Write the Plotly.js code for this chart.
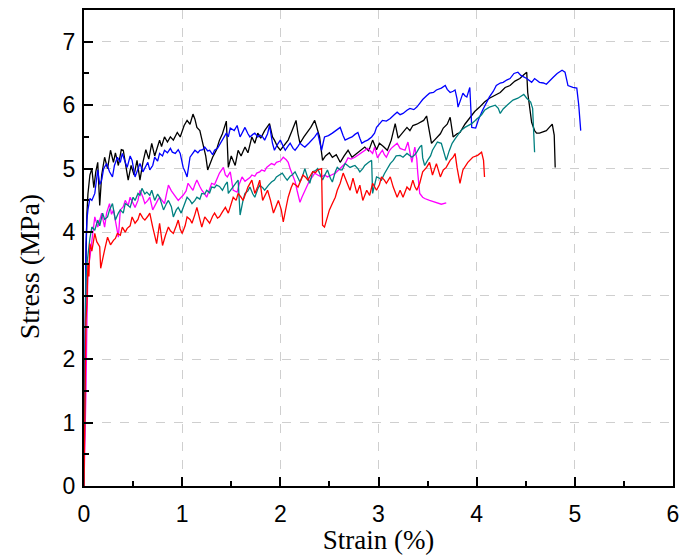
<!DOCTYPE html>
<html>
<head>
<meta charset="utf-8">
<script src="https://cdn.plot.ly/plotly-3.0.1.min.js"></script>
<style>html,body{margin:0;padding:0;background:#fff;}#chart{width:693px;height:555px;}</style>
</head>
<body>
<div id="chart"></div>
<script>
// Stress-strain curves: [strain %, stress MPa]
const blackCurve = [[0,0],[0.01,2.5],[0.02,3.6],[0.03,4.3],[0.04,4.6],[0.06,4.9],[0.08,5.0],[0.1,4.7],[0.12,4.95],[0.14,5.1],[0.16,4.42],[0.18,4.9],[0.21,5.18],[0.24,5.0],[0.27,5.29],[0.3,5.1],[0.32,5.25],[0.35,5.05],[0.38,5.3],[0.4,5.29],[0.43,5.0],[0.45,4.82],[0.48,5.05],[0.51,4.9],[0.54,5.13],[0.57,4.82],[0.6,5.1],[0.63,5.3],[0.66,5.15],[0.69,5.4],[0.72,5.2],[0.74,5.29],[0.77,5.45],[0.79,5.35],[0.82,5.5],[0.85,5.42],[0.88,5.5],[0.91,5.45],[0.95,5.57],[0.98,5.5],[1.02,5.68],[1.05,5.76],[1.08,5.7],[1.11,5.86],[1.13,5.78],[1.15,5.65],[1.18,5.6],[1.21,5.4],[1.24,5.2],[1.26,4.98],[1.29,5.1],[1.31,5.18],[1.35,5.3],[1.38,5.45],[1.41,5.55],[1.45,5.75],[1.47,5.02],[1.5,5.2],[1.54,5.05],[1.57,5.29],[1.6,5.2],[1.64,5.34],[1.67,5.25],[1.71,5.5],[1.74,5.4],[1.77,5.56],[1.8,5.48],[1.84,5.6],[1.89,5.71],[1.92,5.5],[1.94,5.45],[1.97,5.35],[2.0,5.29],[2.04,5.38],[2.08,5.45],[2.12,5.6],[2.16,5.76],[2.18,5.55],[2.2,5.4],[2.24,5.5],[2.27,5.56],[2.31,5.65],[2.35,5.76],[2.38,5.6],[2.4,5.5],[2.43,5.13],[2.46,5.2],[2.5,5.25],[2.53,5.18],[2.57,5.22],[2.61,5.1],[2.65,5.2],[2.69,5.29],[2.73,5.18],[2.78,5.24],[2.82,5.3],[2.86,5.34],[2.9,5.28],[2.94,5.45],[2.98,5.3],[3.01,5.4],[3.05,5.35],[3.09,5.29],[3.13,5.45],[3.17,5.71],[3.2,5.48],[3.24,5.55],[3.29,5.65],[3.32,5.6],[3.35,5.68],[3.39,5.7],[3.42,5.73],[3.46,5.76],[3.49,5.83],[3.52,5.6],[3.54,5.4],[3.57,5.45],[3.59,5.48],[3.63,5.55],[3.66,5.64],[3.7,5.7],[3.73,5.81],[3.76,5.5],[3.8,5.55],[3.83,5.57],[3.88,5.7],[3.93,5.81],[3.98,5.9],[4.03,5.97],[4.08,6.05],[4.13,6.11],[4.18,6.15],[4.24,6.2],[4.29,6.28],[4.34,6.31],[4.39,6.38],[4.44,6.42],[4.48,6.48],[4.51,6.52],[4.52,6.2],[4.54,5.95],[4.56,5.73],[4.59,5.6],[4.61,5.56],[4.64,5.56],[4.68,5.58],[4.71,5.6],[4.74,5.65],[4.77,5.7],[4.79,5.53],[4.8,5.02]];

const blueCurve = [[0,0],[0.01,2.8],[0.02,3.8],[0.03,4.2],[0.04,4.35],[0.06,4.53],[0.08,4.5],[0.11,4.61],[0.14,4.98],[0.16,4.75],[0.18,4.82],[0.2,5.0],[0.23,5.08],[0.26,4.95],[0.29,4.87],[0.31,5.05],[0.34,5.18],[0.37,5.1],[0.39,5.24],[0.42,5.1],[0.44,5.02],[0.47,5.2],[0.49,5.13],[0.52,4.87],[0.55,5.0],[0.57,5.08],[0.6,4.95],[0.62,5.02],[0.65,5.1],[0.67,4.98],[0.7,5.05],[0.72,5.18],[0.75,5.12],[0.77,5.24],[0.8,5.2],[0.82,5.29],[0.85,5.25],[0.88,5.32],[0.9,5.26],[0.93,5.24],[0.96,5.3],[0.98,5.24],[1.01,5.02],[1.03,4.95],[1.05,4.87],[1.08,5.18],[1.1,5.22],[1.13,5.29],[1.16,5.25],[1.18,5.29],[1.21,5.3],[1.23,5.34],[1.26,5.28],[1.28,5.29],[1.31,5.22],[1.33,5.29],[1.36,5.32],[1.38,5.37],[1.41,5.45],[1.43,5.5],[1.45,5.56],[1.47,5.5],[1.49,5.64],[1.53,5.6],[1.56,5.68],[1.59,5.5],[1.62,5.58],[1.64,5.65],[1.67,5.55],[1.69,5.5],[1.72,5.54],[1.74,5.56],[1.77,5.5],[1.79,5.53],[1.82,5.5],[1.84,5.45],[1.87,5.55],[1.89,5.68],[1.92,5.4],[1.94,5.29],[1.97,5.38],[2.0,5.45],[2.03,5.35],[2.05,5.29],[2.08,5.36],[2.1,5.4],[2.13,5.32],[2.15,5.29],[2.18,5.35],[2.2,5.4],[2.23,5.36],[2.25,5.34],[2.29,5.4],[2.32,5.45],[2.35,5.5],[2.38,5.57],[2.4,5.45],[2.42,5.29],[2.45,5.5],[2.49,5.52],[2.53,5.56],[2.57,5.6],[2.61,5.65],[2.64,5.52],[2.66,5.45],[2.7,5.48],[2.73,5.5],[2.76,5.54],[2.79,5.57],[2.81,5.48],[2.83,5.4],[2.86,5.43],[2.89,5.45],[2.93,5.5],[2.96,5.56],[2.98,5.65],[3.01,5.7],[3.04,5.76],[3.08,5.75],[3.12,5.79],[3.16,5.85],[3.19,5.89],[3.22,5.85],[3.25,5.87],[3.29,5.92],[3.32,5.95],[3.36,5.93],[3.39,5.97],[3.42,6.03],[3.45,6.09],[3.49,6.15],[3.52,6.19],[3.56,6.2],[3.59,6.24],[3.64,6.27],[3.68,6.31],[3.7,6.25],[3.73,6.2],[3.76,6.22],[3.78,6.24],[3.8,6.1],[3.81,5.97],[3.84,6.1],[3.86,6.19],[3.88,6.15],[3.9,6.13],[3.93,6.28],[3.95,5.65],[3.99,5.64],[4.02,5.78],[4.06,5.92],[4.1,6.05],[4.13,6.13],[4.17,6.22],[4.2,6.31],[4.24,6.35],[4.27,6.36],[4.31,6.4],[4.34,6.42],[4.38,6.5],[4.42,6.52],[4.45,6.47],[4.48,6.45],[4.51,6.42],[4.56,6.36],[4.59,6.42],[4.64,6.36],[4.68,6.35],[4.71,6.33],[4.75,6.4],[4.78,6.44],[4.82,6.5],[4.87,6.55],[4.9,6.52],[4.93,6.31],[4.98,6.28],[5.02,6.27],[5.04,6.0],[5.06,5.6]];

const magentaCurve = [[0,0],[0.01,0.6],[0.02,1.5],[0.03,2.6],[0.04,3.4],[0.06,3.6],[0.08,3.87],[0.1,4.1],[0.11,4.24],[0.14,4.08],[0.16,4.2],[0.18,4.3],[0.21,4.08],[0.23,4.3],[0.26,4.45],[0.28,4.28],[0.3,4.35],[0.33,4.1],[0.35,3.92],[0.37,4.35],[0.4,4.4],[0.42,4.5],[0.45,4.42],[0.47,4.55],[0.5,4.45],[0.52,4.39],[0.55,4.5],[0.57,4.66],[0.6,4.55],[0.62,4.45],[0.65,4.5],[0.67,4.55],[0.7,4.35],[0.73,4.45],[0.75,4.5],[0.77,4.55],[0.8,4.5],[0.82,4.45],[0.84,4.6],[0.86,4.74],[0.89,4.65],[0.91,4.61],[0.94,4.55],[0.96,4.5],[0.99,4.55],[1.01,4.58],[1.04,4.65],[1.06,4.77],[1.09,4.7],[1.11,4.66],[1.13,4.75],[1.15,4.82],[1.18,4.72],[1.2,4.66],[1.23,4.6],[1.25,4.55],[1.28,4.68],[1.3,4.77],[1.33,4.75],[1.35,4.82],[1.38,4.93],[1.42,5.02],[1.44,4.9],[1.46,4.87],[1.49,4.95],[1.52,4.66],[1.56,4.63],[1.58,4.75],[1.61,4.87],[1.64,4.8],[1.66,4.82],[1.69,4.86],[1.71,4.9],[1.74,4.88],[1.76,4.93],[1.79,4.95],[1.81,4.98],[1.84,4.96],[1.86,5.02],[1.89,5.05],[1.91,5.08],[1.94,5.06],[1.96,5.1],[2.0,5.12],[2.03,5.18],[2.06,5.14],[2.08,5.1],[2.1,5.0],[2.12,4.93],[2.15,4.8],[2.17,4.66],[2.2,4.47],[2.22,4.55],[2.25,4.66],[2.28,4.75],[2.3,4.82],[2.33,4.88],[2.35,4.93],[2.38,4.9],[2.42,4.87],[2.45,4.9],[2.48,4.87],[2.52,4.9],[2.56,4.93],[2.58,4.96],[2.61,5.0],[2.64,5.05],[2.66,5.08],[2.69,5.17],[2.72,5.15],[2.76,5.18],[2.8,5.22],[2.83,5.26],[2.86,5.28],[2.89,5.32],[2.91,5.29],[2.94,5.24],[2.96,5.34],[2.99,5.17],[3.02,5.25],[3.04,5.29],[3.06,5.22],[3.08,5.18],[3.11,5.28],[3.13,5.32],[3.16,5.36],[3.19,5.4],[3.22,5.32],[3.25,5.3],[3.27,5.29],[3.3,5.42],[3.32,5.25],[3.34,5.1],[3.37,5.34],[3.39,5.15],[3.4,4.93],[3.42,4.61],[3.45,4.55],[3.47,4.53],[3.52,4.5],[3.56,4.48],[3.59,4.47],[3.64,4.44],[3.69,4.46]];

const tealCurve = [[0,0],[0.01,2.5],[0.02,3.3],[0.03,3.5],[0.04,3.67],[0.06,3.9],[0.08,4.08],[0.11,4.03],[0.14,4.19],[0.16,4.1],[0.19,4.3],[0.21,4.2],[0.24,4.24],[0.26,4.35],[0.29,4.45],[0.32,4.19],[0.35,4.3],[0.37,4.35],[0.4,4.3],[0.42,4.45],[0.45,4.42],[0.47,4.39],[0.5,4.55],[0.52,4.5],[0.55,4.61],[0.57,4.58],[0.59,4.69],[0.62,4.6],[0.64,4.63],[0.67,4.58],[0.69,4.66],[0.72,4.5],[0.75,4.6],[0.77,4.55],[0.79,4.45],[0.81,4.35],[0.84,4.45],[0.86,4.5],[0.89,4.4],[0.91,4.24],[0.94,4.35],[0.96,4.39],[0.99,4.3],[1.01,4.39],[1.03,4.45],[1.05,4.55],[1.08,4.5],[1.1,4.45],[1.13,4.5],[1.15,4.55],[1.18,4.52],[1.2,4.61],[1.23,4.6],[1.25,4.66],[1.28,4.62],[1.3,4.71],[1.33,4.7],[1.35,4.74],[1.38,4.72],[1.41,4.66],[1.44,4.75],[1.46,4.79],[1.47,4.61],[1.5,4.68],[1.52,4.71],[1.55,4.78],[1.57,4.82],[1.59,4.27],[1.62,4.5],[1.64,4.61],[1.67,4.65],[1.69,4.71],[1.72,4.6],[1.74,4.55],[1.77,4.68],[1.79,4.74],[1.82,4.7],[1.84,4.66],[1.88,4.74],[1.91,4.79],[1.94,4.82],[1.96,4.87],[1.99,4.9],[2.02,4.93],[2.05,4.86],[2.07,4.82],[2.1,4.88],[2.12,4.9],[2.15,4.95],[2.18,4.85],[2.2,4.79],[2.23,4.9],[2.25,5.0],[2.28,4.85],[2.3,4.77],[2.33,4.95],[2.36,4.97],[2.38,5.0],[2.41,4.9],[2.43,4.82],[2.46,4.92],[2.48,4.98],[2.51,4.85],[2.53,4.79],[2.56,4.95],[2.58,5.02],[2.61,4.98],[2.63,4.98],[2.66,5.08],[2.68,5.05],[2.71,5.02],[2.74,5.04],[2.76,5.05],[2.79,5.0],[2.81,4.95],[2.84,5.0],[2.86,5.05],[2.9,5.1],[2.93,5.13],[2.94,4.61],[2.96,4.75],[2.98,4.87],[3.01,4.85],[3.03,4.82],[3.06,4.92],[3.08,4.98],[3.12,5.08],[3.15,5.13],[3.18,5.2],[3.22,5.21],[3.25,5.18],[3.29,5.24],[3.32,5.2],[3.34,5.18],[3.37,5.22],[3.39,5.26],[3.42,5.34],[3.44,5.37],[3.45,5.17],[3.47,5.05],[3.5,5.13],[3.53,5.2],[3.55,5.29],[3.58,5.36],[3.6,5.42],[3.64,5.4],[3.67,5.25],[3.69,5.13],[3.72,5.28],[3.75,5.4],[3.78,5.47],[3.81,5.53],[3.84,5.6],[3.88,5.65],[3.92,5.68],[3.95,5.71],[3.98,5.75],[4.01,5.79],[4.05,5.85],[4.08,5.92],[4.13,5.97],[4.19,6.0],[4.22,5.95],[4.24,5.87],[4.27,5.94],[4.31,6.0],[4.34,6.04],[4.37,6.08],[4.42,6.11],[4.46,6.16],[4.48,6.17],[4.51,6.11],[4.55,6.05],[4.57,5.95],[4.58,5.6],[4.59,5.26]];

const redCurve = [[0,0],[0.01,1.8],[0.02,2.6],[0.03,2.9],[0.04,3.5],[0.05,3.3],[0.06,3.82],[0.08,3.7],[0.11,3.98],[0.13,3.85],[0.16,3.77],[0.17,3.43],[0.19,3.6],[0.21,3.72],[0.24,3.92],[0.27,3.8],[0.3,3.87],[0.32,3.9],[0.34,3.98],[0.37,3.95],[0.39,4.08],[0.42,4.0],[0.44,4.06],[0.47,4.1],[0.49,4.24],[0.52,4.14],[0.55,4.2],[0.57,4.3],[0.6,4.22],[0.62,4.19],[0.65,4.25],[0.67,4.3],[0.7,4.08],[0.72,3.95],[0.74,3.82],[0.77,4.14],[0.8,3.79],[0.83,3.95],[0.86,4.08],[0.88,4.02],[0.91,3.98],[0.94,4.1],[0.96,4.19],[0.98,4.05],[1.0,3.98],[1.03,4.1],[1.05,4.24],[1.08,4.2],[1.1,4.14],[1.13,4.28],[1.15,4.39],[1.18,4.2],[1.2,4.08],[1.23,4.24],[1.26,4.18],[1.28,4.14],[1.31,4.25],[1.33,4.3],[1.36,4.22],[1.38,4.24],[1.41,4.32],[1.44,4.39],[1.47,4.3],[1.5,4.45],[1.52,4.55],[1.55,4.5],[1.57,4.61],[1.6,4.55],[1.62,4.5],[1.65,4.62],[1.67,4.71],[1.71,4.82],[1.74,4.61],[1.77,4.72],[1.79,4.82],[1.82,4.5],[1.85,4.6],[1.87,4.66],[1.9,4.5],[1.93,4.3],[1.96,4.42],[1.98,4.5],[2.01,4.35],[2.03,4.16],[2.06,4.4],[2.08,4.55],[2.11,4.7],[2.13,4.77],[2.16,4.74],[2.18,4.71],[2.21,4.82],[2.23,4.9],[2.26,4.86],[2.28,4.82],[2.31,4.9],[2.33,4.95],[2.36,4.94],[2.38,4.98],[2.42,5.0],[2.43,4.11],[2.45,4.08],[2.48,4.22],[2.5,4.35],[2.53,4.45],[2.56,4.55],[2.58,4.66],[2.61,4.77],[2.64,4.93],[2.66,4.85],[2.68,4.77],[2.71,4.66],[2.74,4.85],[2.76,4.72],[2.78,4.61],[2.81,4.74],[2.84,4.5],[2.88,4.66],[2.91,4.58],[2.94,4.77],[2.96,4.72],[2.98,4.66],[3.01,4.75],[3.03,4.87],[3.06,4.82],[3.08,4.77],[3.12,4.87],[3.15,4.71],[3.19,4.55],[3.22,4.66],[3.25,4.55],[3.29,4.71],[3.32,4.66],[3.35,4.82],[3.37,4.72],[3.39,4.66],[3.42,4.77],[3.45,4.95],[3.49,5.02],[3.52,5.1],[3.55,4.9],[3.59,5.08],[3.63,4.87],[3.66,4.98],[3.69,5.02],[3.73,5.13],[3.76,5.18],[3.78,5.24],[3.8,5.02],[3.83,4.77],[3.86,4.98],[3.91,5.1],[3.96,5.18],[4.01,5.21],[4.05,5.26],[4.07,5.13],[4.08,4.87]];

const seriesList = [
  {name: 'Specimen 1', data: blackCurve, color: '#000000'},
  {name: 'Specimen 2', data: blueCurve, color: '#0000ff'},
  {name: 'Specimen 3', data: magentaCurve, color: '#ff00ff'},
  {name: 'Specimen 4', data: tealCurve, color: '#008080'},
  {name: 'Specimen 5', data: redCurve, color: '#ff0000'}
];

const traces = seriesList.map(s => ({
  type: 'scatter', mode: 'lines', name: s.name,
  x: s.data.map(p => p[0]), y: s.data.map(p => p[1]),
  line: {color: s.color, width: 1.3}
}));

const axisCommon = {
  showline: true, linecolor: '#000', linewidth: 2, mirror: true,
  ticks: 'inside', ticklen: 9, tickwidth: 2, tickcolor: '#000',
  showgrid: true, gridcolor: '#cfcfcf', griddash: 'dash', gridwidth: 1,
  zeroline: false,
  tickfont: {family: 'Liberation Sans, Arial, sans-serif', size: 23, color: '#000'},
  minor: {ticks: 'inside', ticklen: 5, tickwidth: 2, tickcolor: '#000', dtick: 0.5, showgrid: false}
};

const serifFont = {family: 'Liberation Serif, Times New Roman, serif', size: 27, color: '#000'};

const layout = {
  width: 693, height: 555,
  margin: {l: 84, r: 20, t: 10, b: 69},
  paper_bgcolor: '#fff', plot_bgcolor: '#fff',
  showlegend: false,
  xaxis: Object.assign({}, axisCommon, {
    range: [0, 6], dtick: 1, tick0: 0, ticklabelstandoff: 6,
    title: {text: 'Strain (%)', font: serifFont, standoff: 3}
  }),
  yaxis: Object.assign({}, axisCommon, {
    range: [0, 7.5], dtick: 1, tick0: 0, ticklabelstandoff: 2
  }),
  annotations: [{
    text: 'Stress (MPa)', textangle: -90, showarrow: false,
    xref: 'paper', yref: 'paper', x: -0.093, y: 0.46,
    xanchor: 'center', yanchor: 'middle',
    font: {family: serifFont.family, size: 28, color: '#000'}
  }]
};

Plotly.newPlot('chart', traces, layout, {displayModeBar: false, staticPlot: true});
</script>
</body>
</html>
